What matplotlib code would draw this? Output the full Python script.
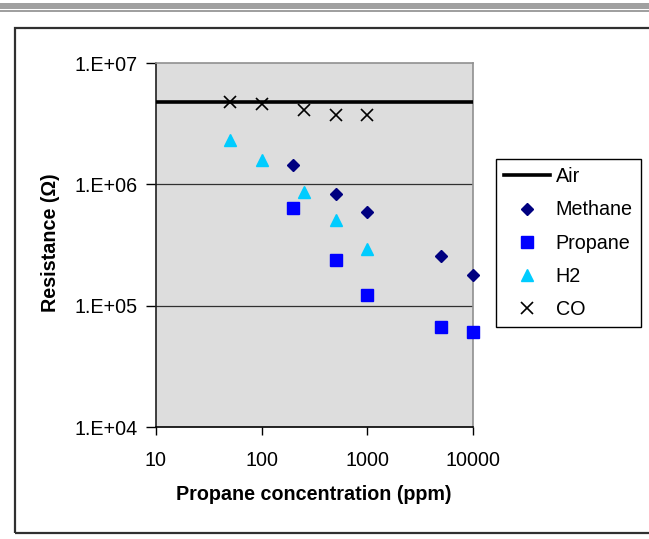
import matplotlib
matplotlib.use("Agg")
import matplotlib.pyplot as plt
from matplotlib.patches import Rectangle

plt.rcParams['font.family'] = ['Liberation Sans', 'DejaVu Sans']

# ---- data ----
air_level = 4.8e6
air_x = [10, 10000]

methane_x = [200, 500, 1000, 5000, 10000]
methane_y = [1.44e6, 8.4e5, 5.95e5, 2.55e5, 1.8e5]

propane_x = [200, 500, 1000, 5000, 10000]
propane_y = [6.4e5, 2.4e5, 1.23e5, 6.7e4, 6.1e4]

h2_x = [50, 100, 250, 500, 1000]
h2_y = [2.3e6, 1.58e6, 8.6e5, 5.05e5, 2.95e5]

co_x = [50, 100, 250, 500, 1000]
co_y = [4.8e6, 4.55e6, 4.1e6, 3.72e6, 3.7e6]

x_ticks = [10, 100, 1000, 10000]
x_labels = ['10', '100', '1000', '10000']
y_ticks = [1e4, 1e5, 1e6, 1e7]
y_labels = ['1.E+04', '1.E+05', '1.E+06', '1.E+07']

FS = 14.2
W, H = 649, 539
fig = plt.figure(figsize=(W / 100, H / 100), dpi=100)

# decorative top bars
fig.patches.append(Rectangle((0, 1 - 8.5 / H), 1, 5 / H, transform=fig.transFigure,
                             facecolor='#a0a0a0', edgecolor='none'))
fig.patches.append(Rectangle((0, 1 - 11.5 / H), 1, 1.8 / H, transform=fig.transFigure,
                             facecolor='#a0a0a0', edgecolor='none'))
# outer chart frame
fig.patches.append(Rectangle((15 / W, 1 - 533 / H), (660 - 15) / W, (533 - 28) / H,
                             transform=fig.transFigure, facecolor='none',
                             edgecolor='#303030', linewidth=1.6))

ax = fig.add_axes([156 / W, 1 - 427 / H, (473 - 156) / W, (427 - 63) / H])
ax.set_facecolor('#dddddd')
ax.set_xscale('log')
ax.set_yscale('log')
ax.set_xlim(10, 10000)
ax.set_ylim(1e4, 1e7)

for yv in [1e5, 1e6]:
    ax.axhline(yv, color='#303030', lw=0.9, zorder=1)

ax.plot(air_x, [air_level, air_level], color='black', lw=2.6, label='Air', zorder=3)
ax.plot(methane_x, methane_y, linestyle='none', marker='D', ms=6.5, color='#000080',
        label='Methane', zorder=4, clip_on=False)
ax.plot(propane_x, propane_y, linestyle='none', marker='s', ms=8, color='#0000ff',
        label='Propane', zorder=4, clip_on=False)
ax.plot(h2_x, h2_y, linestyle='none', marker='^', ms=9, color='#00ccff',
        label='H2', zorder=4, clip_on=False)
ax.plot(co_x, co_y, linestyle='none', marker='x', ms=8, mew=1.2, color='black',
        label='CO', zorder=4, clip_on=False)

ax.set_xticks(x_ticks)
ax.set_xticklabels(x_labels)
ax.set_yticks(y_ticks)
ax.set_yticklabels(y_labels)
ax.minorticks_off()
ax.tick_params(axis='x', which='major', direction='out', length=6, width=1,
               labelsize=FS, pad=11, color='black')
ax.tick_params(axis='y', which='major', direction='out', length=7, width=1,
               labelsize=FS, pad=6, color='black')

for s in ['top', 'right']:
    ax.spines[s].set_color('#909090')
    ax.spines[s].set_linewidth(1.2)
ax.spines['left'].set_color('#202020')
ax.spines['left'].set_linewidth(1.2)
ax.spines['bottom'].set_color('black')
ax.spines['bottom'].set_linewidth(1.2)

fig.text(314 / W, 1 - 494 / H, 'Propane concentration (ppm)', ha='center', va='center',
         fontsize=FS, fontweight='bold')
fig.text(50 / W, 1 - 243 / H, 'Resistance (Ω)', ha='center', va='center',
         rotation=90, fontsize=FS, fontweight='bold')

leg = fig.legend(loc='upper left', bbox_to_anchor=(496 / W, 1 - 159 / H),
                 bbox_transform=fig.transFigure, fontsize=FS, frameon=True,
                 fancybox=False, edgecolor='black', framealpha=1, borderpad=0.42,
                 labelspacing=0.72, handlelength=2.3, handletextpad=0.3,
                 borderaxespad=0)
leg.get_frame().set_linewidth(1.0)

fig.savefig('out.png', dpi=100)
